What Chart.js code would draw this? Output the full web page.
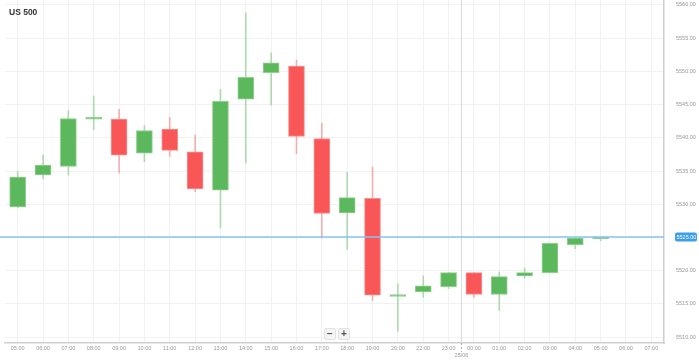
<!DOCTYPE html>
<html>
<head>
<meta charset="utf-8">
<script src="https://cdn.jsdelivr.net/npm/chart.js@4"></script>
<style>
    body { margin: 0; background: #fff; font-family: "Liberation Sans", Arial, sans-serif; }
    #wrap { position: relative; width: 699px; height: 361px; }
    #title { position: absolute; left: 9px; top: 7px; font-size: 8.5px; font-weight: bold; color: #333; }
    .zoomBtn { position: absolute; top: 328px; width: 10px; height: 10px; line-height: 10px; text-align: center;
        font-size: 10px; font-weight: bold; color: #555; background: #f4f4f4; border: 1px solid #e2e2e2; border-radius: 2px; }
</style>
</head>
<body>
<div id="wrap">
    <canvas id="candleChart"></canvas>
    <div id="title">US 500</div>
    <div class="zoomBtn" style="left:324px">−</div>
    <div class="zoomBtn" style="left:338px">+</div>
</div>
<script>
// ==================== DATA ====================
let hours = ['05:00', '06:00', '07:00', '08:00', '09:00', '10:00', '11:00', '12:00', '13:00', '14:00',
    '15:00', '16:00', '17:00', '18:00', '19:00', '20:00', '22:00', '23:00', '00:00', '01:00',
    '02:00', '03:00', '04:00', '05:00', '06:00', '07:00'];

let opens  = [5529.6, 5534.4, 5535.7, 5542.8, 5542.8, 5537.7, 5541.3, 5537.9, 5532.1, 5545.8, 5549.8, 5550.8,
    5539.9, 5528.7, 5530.9, 5516.1, 5516.8, 5517.6, 5519.7, 5516.4, 5519.2, 5519.7, 5523.9, 5524.8];
let highs  = [5534.9, 5537.4, 5544.1, 5546.3, 5544.3, 5541.8, 5543.1, 5540.4, 5547.3, 5558.8, 5552.8, 5551.7,
    5542.2, 5534.8, 5535.6, 5518.0, 5519.2, 5519.7, 5519.7, 5519.8, 5520.4, 5524.2, 5525.0, 5524.9];
let lows   = [5529.5, 5533.8, 5534.4, 5541.2, 5534.7, 5536.4, 5537.2, 5531.9, 5526.4, 5536.2, 5544.9, 5537.6,
    5524.9, 5523.2, 5515.5, 5510.9, 5516.0, 5517.3, 5516.0, 5514.0, 5518.9, 5519.6, 5523.3, 5524.5];
let closes = [5534.1, 5535.9, 5542.9, 5543.0, 5537.4, 5541.1, 5538.1, 5532.3, 5545.5, 5549.1, 5551.3, 5540.2,
    5528.6, 5531.0, 5516.3, 5516.4, 5517.7, 5519.7, 5516.4, 5519.1, 5519.7, 5524.1, 5524.9, 5524.9];

let priceTicks = [5510, 5515, 5520, 5525, 5530, 5535, 5540, 5545, 5550, 5555, 5560];
let lastPrice = 5525.0;
let dayBreakLabel = '25/06';
let dayBreakAt = '00:00';

// ==================== COLOURS ====================
const UP = '#5cb85c', UP_EDGE = '#8fd08f', UP_WICK = 'rgba(92,184,92,0.45)';
const DOWN = '#f95757', DOWN_EDGE = '#fb8e8e', DOWN_WICK = 'rgba(249,87,87,0.45)';
const FONT = '"Liberation Sans", Arial, sans-serif';

let isUp = opens.map((o, i) => closes[i] >= o);
let bodies = opens.map((o, i) => [o, closes[i]]);
let wicks = lows.map((l, i) => [l, highs[i]]);

// day separator, last price line and its label
const overlayPlugin = {
    id: 'overlay',
    beforeDatasetsDraw(chart) {
        let ctx = chart.ctx, area = chart.chartArea, x = chart.scales.x;
        let idx = hours.indexOf(dayBreakAt, 17);
        let sx = Math.round((x.getPixelForValue(idx - 1) + x.getPixelForValue(idx)) / 2) + 0.5;
        ctx.save();
        ctx.strokeStyle = '#dcdcdc';
        ctx.lineWidth = 1;
        ctx.beginPath();
        ctx.moveTo(sx, area.top);
        ctx.lineTo(sx, area.bottom);
        ctx.stroke();
        ctx.setLineDash([2, 2]);
        ctx.strokeStyle = '#aaa';
        ctx.beginPath();
        ctx.moveTo(sx, area.bottom);
        ctx.lineTo(sx, area.bottom + 9);
        ctx.stroke();
        ctx.setLineDash([]);
        ctx.fillStyle = '#999';
        ctx.font = '5.5px ' + FONT;
        ctx.textAlign = 'center';
        ctx.textBaseline = 'middle';
        ctx.fillText(dayBreakLabel, sx, area.bottom + 12);
        ctx.restore();
    },
    afterDatasetsDraw(chart) {
        let ctx = chart.ctx, area = chart.chartArea;
        let y = Math.round(chart.scales.y.getPixelForValue(lastPrice));
        ctx.save();
        ctx.strokeStyle = '#86c4f4';
        ctx.lineWidth = 1.5;
        ctx.beginPath();
        ctx.moveTo(0, y);
        ctx.lineTo(area.right, y);
        ctx.stroke();
        ctx.fillStyle = '#3d9fe8';
        ctx.beginPath();
        ctx.roundRect(area.right + 11, y - 4.5, 22, 9, 2);
        ctx.fill();
        ctx.fillStyle = '#fff';
        ctx.font = '5.5px ' + FONT;
        ctx.textAlign = 'left';
        ctx.textBaseline = 'middle';
        ctx.fillText(lastPrice.toFixed(2), area.right + 12.5, y + 0.5);
        ctx.restore();
    }
};

document.addEventListener("DOMContentLoaded", function () {
    let ctx = document.getElementById('candleChart').getContext('2d');
    new Chart(ctx, {
        type: 'bar',
        data: {
            labels: hours,
            datasets: [{
                label: 'Body',
                data: bodies,
                order: 0,
                grouped: false,
                barThickness: 16,
                minBarLength: 2,
                backgroundColor: isUp.map(u => u ? UP : DOWN),
                borderColor: isUp.map(u => u ? UP_EDGE : DOWN_EDGE),
                borderWidth: 1,
                borderSkipped: false
            }, {
                label: 'Wick',
                data: wicks,
                order: 1,
                grouped: false,
                barThickness: 1,
                backgroundColor: isUp.map(u => u ? UP_WICK : DOWN_WICK),
                borderWidth: 0
            }]
        },
        options: {
            responsive: true,
            maintainAspectRatio: false,
            animation: false,
            layout: { padding: { left: 5, top: 0, right: 0, bottom: 0 } },
            plugins: { legend: { display: false }, tooltip: { enabled: false } },
            scales: {
                x: {
                    offset: true,
                    grid: { offset: false, color: '#f1f1f1', drawTicks: false },
                    border: { color: '#cfcfcf', width: 1.5 },
                    ticks: {
                        color: '#999', padding: 2, maxRotation: 0, autoSkip: false,
                        font: { size: 5.5, family: FONT }
                    },
                    afterFit: s => { s.height = 18; s.paddingLeft = 0; s.paddingRight = 0; }
                },
                y: {
                    position: 'right',
                    min: 5509.1,
                    max: 5560.75,
                    afterBuildTicks: s => { s.ticks = priceTicks.map(v => ({ value: v })); },
                    grid: { color: '#f1f1f1', drawTicks: false },
                    border: { color: '#cfcfcf', width: 1.5 },
                    ticks: {
                        color: '#999', padding: 12,
                        font: { size: 5.5, family: FONT },
                        callback: v => Number(v).toFixed(2)
                    },
                    afterFit: s => { s.width = 35; s.paddingTop = 0; s.paddingBottom = 0; }
                }
            }
        },
        plugins: [overlayPlugin]
    });
});
</script>
</body>
</html>
